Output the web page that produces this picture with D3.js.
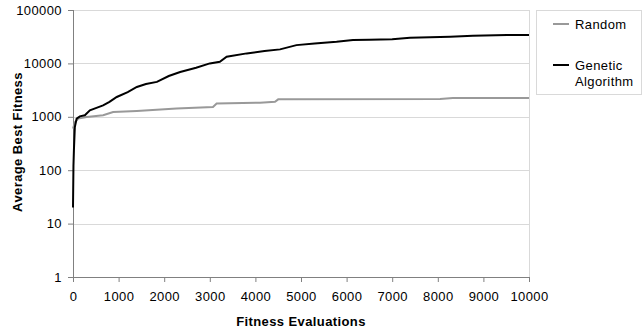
<!DOCTYPE html>
<meta charset="utf-8">
<head>
  <style>
    body { margin: 0; background: #fff; font-family: "Liberation Sans", Arial, sans-serif; }
    .axis text { font-size: 13px; letter-spacing: 0.4px; fill: #000; }
    .axis path, .axis line { stroke: #808080; }
    .title { font-size: 13px; font-weight: bold; letter-spacing: 0.4px; }
    .legend text { font-size: 13px; letter-spacing: 0.4px; }
  </style>
</head>
<body>
  <div class="chart"></div>
  <script src="https://d3js.org/d3.v7.min.js"></script>
  <script>
    // evaluations / average best fitness
    var gaX = [0, 10, 20, 40, 80, 150, 260, 370, 500, 660, 800, 960, 1200, 1400, 1600, 1840, 2100, 2350, 2700, 3000, 3220, 3370, 3810, 4200, 4540, 4900, 5300, 5780, 6140, 6500, 7000, 7390, 8270, 8770, 9520, 10000];
    var gaY = [20, 120, 235, 640, 925, 1020, 1070, 1320, 1450, 1640, 1900, 2350, 2900, 3620, 4100, 4500, 5800, 6900, 8300, 10000, 10700, 13300, 15400, 17000, 18300, 22000, 23500, 25400, 27500, 27800, 28200, 30300, 31600, 33000, 34000, 34000];

    var rndX = [0, 44, 116, 300, 660, 880, 1400, 2270, 3070, 3150, 4100, 4430, 4500, 8050, 8330, 10000];
    var rndY = [600, 800, 925, 990, 1070, 1230, 1290, 1430, 1530, 1780, 1830, 1910, 2120, 2150, 2240, 2240];

    var xTicks = [0, 1000, 2000, 3000, 4000, 5000, 6000, 7000, 8000, 9000, 10000];
    var yTicks = [1, 10, 100, 1000, 10000, 100000];

    var seriesNames = ["Random", "Genetic Algorithm"];
    var seriesColors = ["#999999", "#000000"];

    var margin = { top: 10, right: 113, bottom: 56, left: 73 };
    var width = 642 - margin.left - margin.right,
        height = 333 - margin.top - margin.bottom;

    var svg = d3.select(".chart").append("svg")
        .attr("width", 642)
        .attr("height", 333)
      .append("g")
        .attr("transform", "translate(" + margin.left + "," + margin.top + ")");

    var x = d3.scaleLinear().domain([0, 10000]).range([0, width]);
    var y = d3.scaleLog().domain([1, 100000]).range([height, 0]);

    // grid
    svg.append("g")
      .selectAll("line")
      .data(yTicks.slice(1))
      .enter().append("line")
        .attr("x1", 0).attr("x2", width)
        .attr("y1", function(d) { return Math.round(y(d)) + 0.5; })
        .attr("y2", function(d) { return Math.round(y(d)) + 0.5; })
        .attr("stroke", "#d9d9d9");

    svg.append("line")
        .attr("x1", width + 0.5).attr("x2", width + 0.5)
        .attr("y1", 0).attr("y2", height)
        .attr("stroke", "#d9d9d9");

    var xAxis = d3.axisBottom(x).tickValues(xTicks).tickSize(5).tickPadding(10)
        .tickFormat(d3.format("d"));
    var yAxis = d3.axisLeft(y).tickValues(yTicks).tickSize(5).tickPadding(6)
        .tickFormat(d3.format("d"));

    svg.append("g")
        .attr("class", "x axis")
        .attr("transform", "translate(0," + height + ")")
        .call(xAxis)
        .call(function(g) { g.select(".domain").attr("d", "M0.5,0.5H" + width); });

    svg.append("g")
        .attr("class", "y axis")
        .call(yAxis)
        .call(function(g) { g.select(".domain").attr("d", "M0.5,0V" + height); });

    var line = d3.line()
        .x(function(d) { return x(d[0]); })
        .y(function(d) { return y(d[1]); });

    var rnd = d3.zip(rndX, rndY),
        ga = d3.zip(gaX, gaY);

    svg.append("path")
        .datum(rnd)
        .attr("fill", "none")
        .attr("stroke", seriesColors[0])
        .attr("stroke-width", 2)
        .attr("d", line);

    svg.append("path")
        .datum(ga)
        .attr("fill", "none")
        .attr("stroke", seriesColors[1])
        .attr("stroke-width", 2)
        .attr("d", line);

    // axis titles
    svg.append("text")
        .attr("class", "title")
        .attr("x", width / 2)
        .attr("y", height + 49)
        .style("text-anchor", "middle")
        .text("Fitness Evaluations");

    svg.append("text")
        .attr("class", "title")
        .attr("transform", "rotate(-90)")
        .attr("x", -132)
        .attr("y", -51)
        .style("text-anchor", "middle")
        .text("Average Best Fitness");

    // legend
    var legend = svg.append("g")
        .attr("class", "legend")
        .attr("transform", "translate(" + (width + 7) + ",0)");

    legend.append("rect")
        .attr("x", 0.5).attr("y", 0.5)
        .attr("width", 105).attr("height", 84)
        .attr("fill", "#fff")
        .attr("stroke", "#d9d9d9");

    var items = legend.selectAll(".item")
        .data(seriesNames)
        .enter().append("g")
        .attr("class", "item")
        .attr("transform", function(d, i) { return "translate(0," + (i ? 55 : 14) + ")"; });

    items.append("line")
        .attr("x1", 17).attr("x2", 33)
        .attr("stroke", function(d, i) { return seriesColors[i]; })
        .attr("stroke-width", 2);

    items.append("text")
        .attr("x", 39)
        .attr("y", 5)
        .selectAll("tspan")
        .data(function(d) { return d.split(" "); })
        .enter().append("tspan")
        .attr("x", 39)
        .attr("dy", function(d, i) { return i ? 16 : 0; })
        .text(function(d) { return d; });
  </script>
</body>
